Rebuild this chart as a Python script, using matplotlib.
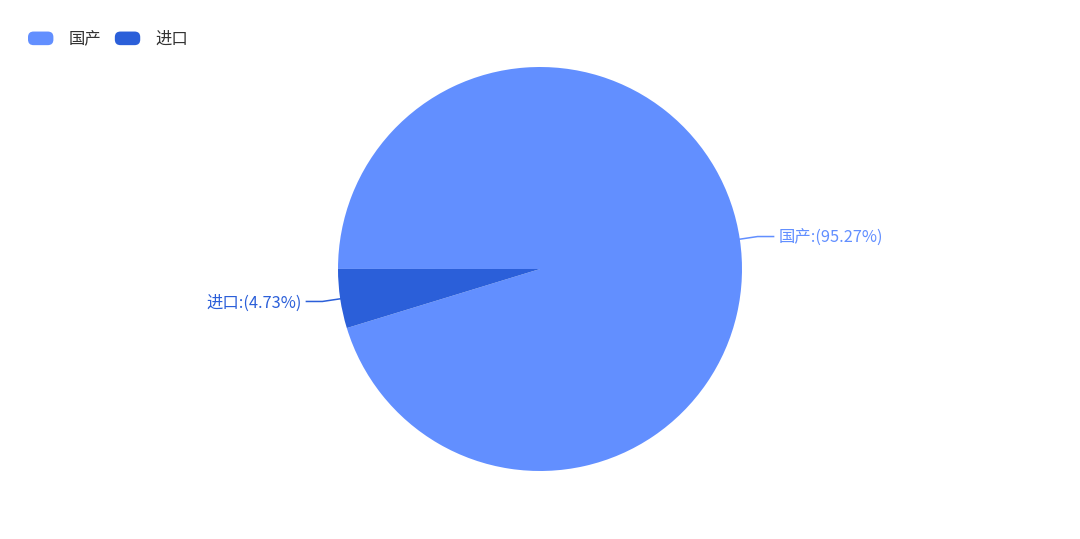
import numpy as np
import matplotlib.pyplot as plt
from matplotlib.patches import FancyBboxPatch
from matplotlib.legend_handler import HandlerPatch

plt.rcParams['font.family'] = ['Noto Sans CJK SC', 'DejaVu Sans']

# ================== DATA ==================
labels = ['国产', '进口']
values = [95.27, 4.73]
colors = ['#628fff', '#2b5fd9']

W, H = 1080, 539
cx, cy = 540, H - 269
radius = 202
len1, len2 = 18, 16
FS = 11.8

fig = plt.figure(figsize=(W / 100, H / 100), dpi=100)
ax = fig.add_axes([0, 0, 1, 1])

wedges, _ = ax.pie(
    values,
    colors=colors,
    startangle=197,
    counterclock=True,
    center=(cx, cy),
    radius=radius,
    frame=True,
    wedgeprops=dict(linewidth=0),
)
ax.set_xlim(0, W)
ax.set_ylim(0, H)
ax.axis('off')

for w, lab, val, col in zip(wedges, labels, values, colors):
    mid = np.deg2rad(0.5 * (w.theta1 + w.theta2))
    x0 = cx + radius * np.cos(mid)
    y0 = cy + radius * np.sin(mid)
    x1 = cx + (radius + len1) * np.cos(mid)
    y1 = cy + (radius + len1) * np.sin(mid)
    side = 1 if np.cos(mid) >= 0 else -1
    x2 = x1 + side * len2
    ax.plot([x0, x1, x2], [y0, y1, y1], color=col, lw=1.1)
    ax.text(x2 + side * 5, y1 - 1.5, f'{lab}:({val:.2f}%)', color=col,
            fontsize=FS, va='center',
            ha='left' if side > 0 else 'right')


class RoundBox(HandlerPatch):
    def create_artists(self, legend, orig_handle, xdescent, ydescent,
                       width, height, fontsize, trans):
        p = FancyBboxPatch((-xdescent, -ydescent), width, height,
                           boxstyle='round,pad=0,rounding_size=4',
                           facecolor=orig_handle.get_facecolor(),
                           edgecolor='none', transform=trans)
        return [p]


handles = [plt.Rectangle((0, 0), 1, 1, facecolor=c) for c in colors]
leg = fig.legend(
    handles, labels,
    loc='upper left',
    bbox_to_anchor=(28 / W, 1 - 31 / H),
    ncol=2,
    frameon=False,
    fontsize=FS,
    handlelength=1.55,
    handleheight=0.9,
    handletextpad=0.9,
    columnspacing=0.85,
    borderaxespad=0,
    borderpad=0,
    handler_map={plt.Rectangle: RoundBox()},
)
for t in leg.get_texts():
    t.set_color('#333333')

fig.savefig('out.png', dpi=100)
